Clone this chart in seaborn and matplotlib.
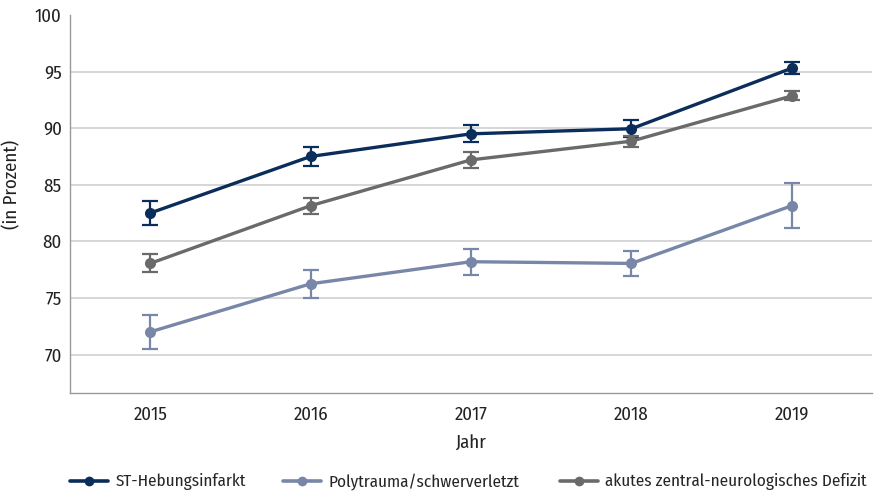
import matplotlib
matplotlib.use("Agg")
import matplotlib.pyplot as plt
import seaborn as sns
import pandas as pd

years = [2015, 2016, 2017, 2018, 2019]
series_names = ["ST-Hebungsinfarkt", "Polytrauma/schwerverletzt",
                "akutes zentral-neurologisches Defizit"]
stemi = [82.5, 87.5, 89.5, 89.95, 95.3]
stemi_err = [1.05, 0.85, 0.75, 0.75, 0.55]
poly = [72.0, 76.25, 78.2, 78.05, 83.15]
poly_err = [1.5, 1.25, 1.15, 1.1, 2.0]
neuro = [78.05, 83.15, 87.2, 88.85, 92.85]
neuro_err = [0.8, 0.7, 0.7, 0.5, 0.4]
y_ticks = [70, 75, 80, 85, 90, 95, 100]
colors = ["#0b2d5b", "#7886a8", "#6a6a6a"]

df = pd.DataFrame({
    "Jahr": years * 3,
    "Wert": stemi + poly + neuro,
    "Fehler": stemi_err + poly_err + neuro_err,
    "Reihe": [n for n in series_names for _ in years],
})

sns.set_theme(style="white")
plt.rcParams["font.family"] = ["Fira Sans Condensed", "DejaVu Sans"]

fig = plt.figure(figsize=(8.81, 4.97), dpi=100)
ax = fig.add_axes([70 / 881, 1 - 393 / 497, 802 / 881, 378 / 497])

palette = dict(zip(series_names, colors))
sns.lineplot(data=df, x="Jahr", y="Wert", hue="Reihe", palette=palette,
             marker="o", markersize=8, markeredgewidth=0, linewidth=2.4,
             ax=ax, legend=False, zorder=3)
for name in series_names:
    sub = df[df["Reihe"] == name]
    ax.errorbar(sub["Jahr"], sub["Wert"], yerr=sub["Fehler"], fmt="none",
                ecolor=palette[name], elinewidth=1.6, capsize=6,
                capthick=1.6, zorder=2)

ymin, ymax = 66.6, 100
ax.set_xlim(2014.5, 2019.5)
ax.set_ylim(ymin, ymax)
ax.set_xticks(years)
ax.set_yticks(y_ticks)
ax.yaxis.grid(True, color="#cfcfcf", linewidth=1.2)
ax.set_axisbelow(True)
ax.yaxis.get_gridlines()[-1].set_visible(False)
for s in ["top", "right"]:
    ax.spines[s].set_visible(False)
for s in ["left", "bottom"]:
    ax.spines[s].set_color("#9a9a9a")
    ax.spines[s].set_linewidth(1.0)
ax.tick_params(axis="x", direction="in", length=6, color="#9a9a9a",
               labelsize=13.5, pad=9, labelcolor="#222222")
ax.tick_params(axis="y", length=0, labelsize=13.5, pad=6, labelcolor="#222222")
ax.set_xlabel("Jahr", fontsize=13.5, color="#222222", labelpad=8)
ax.set_ylabel("(in Prozent)", fontsize=13.5, color="#222222")
# y label centred over the 70-100 tick range
ax.yaxis.set_label_coords(-0.061, ((y_ticks[0] + y_ticks[-1]) / 2 - ymin) / (ymax - ymin))

# one legend entry per column, each anchored at its own left edge
legend_left_px = [70, 283, 560]
for name, c, x0 in zip(series_names, colors, legend_left_px):
    h = plt.Line2D([], [], color=c, marker="o", markersize=7,
                   markeredgewidth=0, linewidth=2.6)
    fig.legend([h], [name], loc="center left", frameon=False, fontsize=12.3,
               bbox_to_anchor=(x0 / 881, 1 - 482 / 497), borderpad=0,
               borderaxespad=0, handlelength=2.2, handletextpad=0.45)

fig.savefig("out.png", dpi=100)
